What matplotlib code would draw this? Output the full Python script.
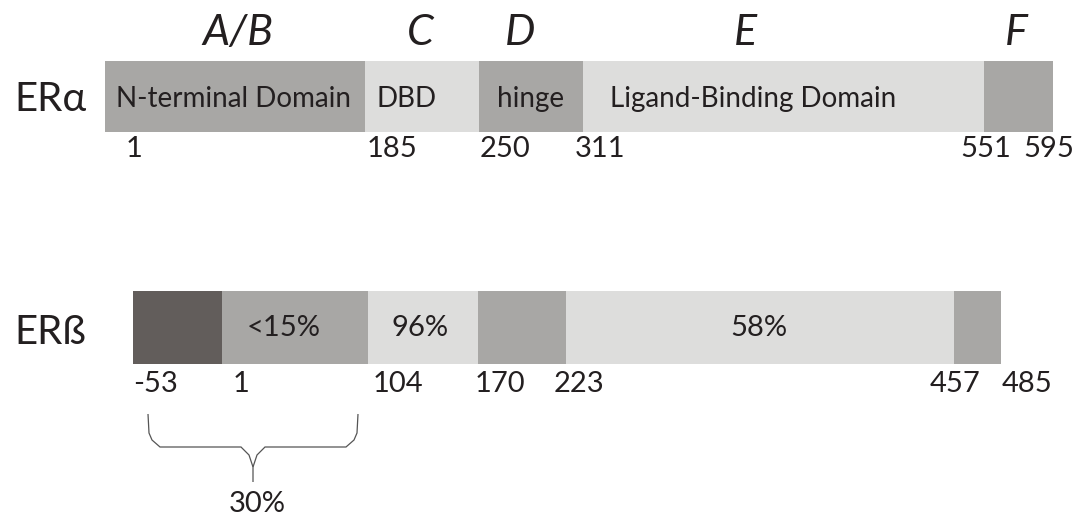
import matplotlib
matplotlib.use('Agg')
import matplotlib.pyplot as plt
from matplotlib.path import Path
from matplotlib.patches import PathPatch

# ── data ────────────────────────────────────────────────────────────────
DOMAINS = ['A/B', 'C', 'D', 'E', 'F']
DOMAIN_X = [238, 420, 520, 745, 1016]

# ERα: drawn segment edges (diagram units, not to scale) + shading + labels
ALPHA_EDGES = [105, 365, 479, 583, 984, 1053]
ALPHA_SHADE = ['mid', 'light', 'mid', 'light', 'mid']
ALPHA_TEXT = ['N-terminal Domain', 'DBD', 'hinge', 'Ligand-Binding Domain', '']
ALPHA_TEXT_X = [233, 407, 531, 753, None]
ALPHA_RES = ['1', '185', '250', '311', '551', '595']
ALPHA_RES_X = [126, 367, 480, 575, 960, 1023]

# ERβ
BETA_EDGES = [133, 222, 368, 478, 566, 954, 1001]
BETA_SHADE = ['dark', 'mid', 'light', 'mid', 'light', 'mid']
BETA_TEXT = ['', '<15%', '96%', '', '58%', '']
BETA_TEXT_X = [None, 284, 420, None, 759, None]
BETA_RES = ['-53', '1', '104', '170', '223', '457', '485']
BETA_RES_X = [133, 233, 373, 475, 554, 930, 1002]

BRACE_LABEL = '30%'

C = {'dark': '#625d5b', 'mid': '#a8a7a5', 'light': '#dddddc'}
TXT = '#231f20'
FONT = ['Lato', 'DejaVu Sans']

fig = plt.figure(figsize=(10.8, 5.16), dpi=100)
ax = fig.add_axes([0, 0, 1, 1])
ax.set_xlim(0, 1080); ax.set_ylim(516, 0); ax.axis('off')

def draw_bar(edges, shades, y0, y1):
    for i, s in enumerate(shades):
        ax.barh((y0+y1)/2, edges[i+1]-edges[i], height=y1-y0, left=edges[i],
                color=C[s], edgecolor='none')

def label(x, y, s, size, ha='left', **kw):
    ax.text(x, y, s, ha=ha, va='baseline', fontsize=size, color=TXT,
            family=FONT, **kw)

# domain letters
for d, x in zip(DOMAINS, DOMAIN_X):
    label(x, 45, d, 31, ha='center', style='italic')

# ── ERα ──
draw_bar(ALPHA_EDGES, ALPHA_SHADE, 61, 132)
label(14, 111, 'ERα', 29)
for t, x in zip(ALPHA_TEXT, ALPHA_TEXT_X):
    if t:
        label(x, 107, t, 20, ha='center')
for t, x in zip(ALPHA_RES, ALPHA_RES_X):
    label(x, 157, t, 21)

# ── ERβ ──
draw_bar(BETA_EDGES, BETA_SHADE, 291, 364)
label(14, 344, 'ERß', 29)
for t, x in zip(BETA_TEXT, BETA_TEXT_X):
    if t:
        label(x, 336, t, 21, ha='center')
for t, x in zip(BETA_RES, BETA_RES_X):
    label(x, 392, t, 21)

# brace under -53 .. 104
xl, xr, xm = 148, 358, 253
yt, yh, yb = 414, 447, 482
left = [(xl, yt), (xl+1, yh-14), (xl+4, yh-7), (xl+12, yh), (xm-12, yh),
        (xm-4, yh+8), (xm, yh+20), (xm, yb)]
right = [(xr, yt), (xr-1, yh-14), (xr-4, yh-7), (xr-12, yh), (xm+12, yh),
         (xm+4, yh+8), (xm, yh+20)]
for pts in (left, right):
    ax.add_patch(PathPatch(Path(pts), fill=False, edgecolor='#555555', lw=0.9))
label(xm+4, 512, BRACE_LABEL, 21, ha='center')

plt.savefig('out.png', dpi=100, facecolor='white')
